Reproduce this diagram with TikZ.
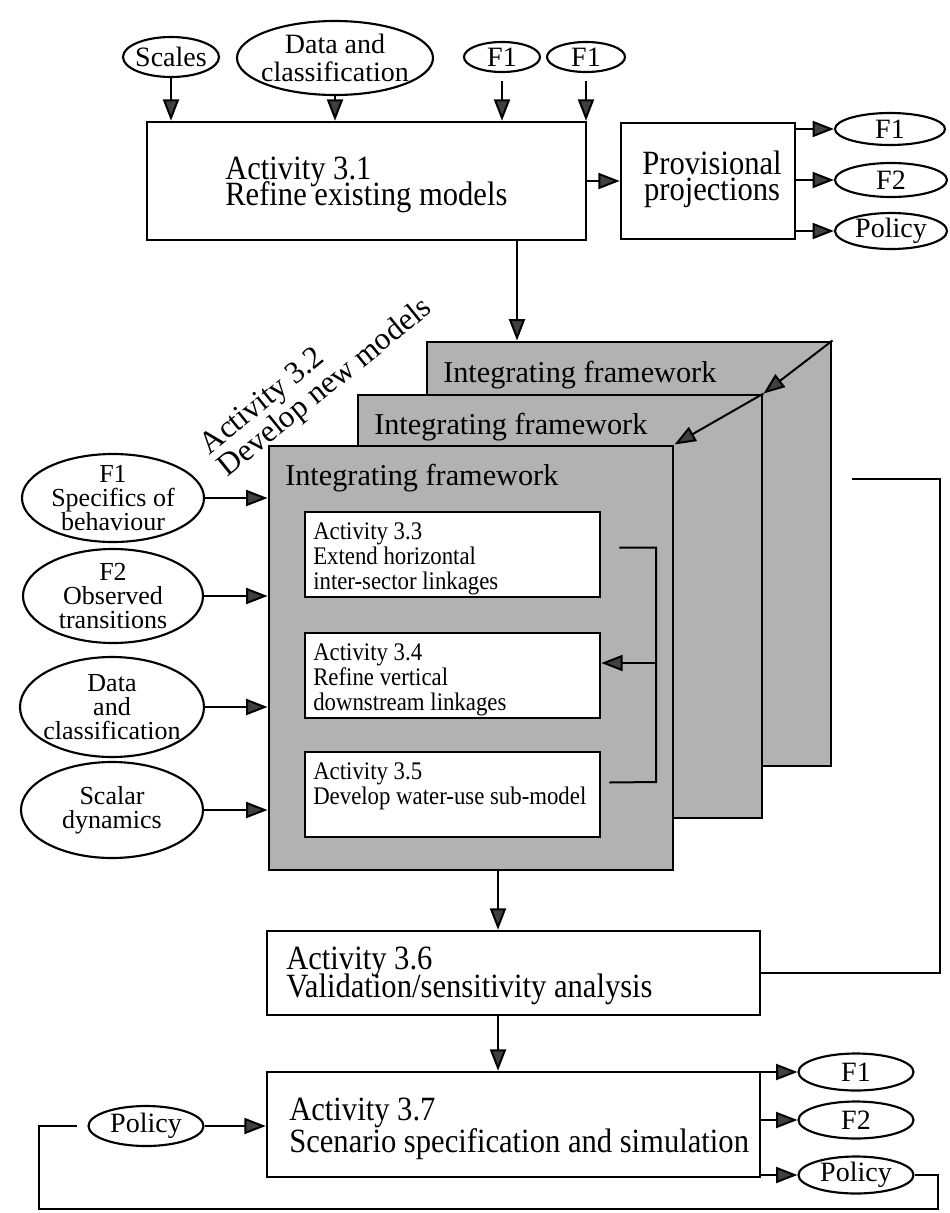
\documentclass[tikz,border=0pt]{standalone}
\usepackage{fontspec}
\setmainfont{Liberation Serif}
\newfontfamily\nserif{Liberation Serif}[FakeStretch=0.9]
\usetikzlibrary{arrows.meta,shapes.geometric,calc}

% font sizes used in the chart (lines kept at a fixed pitch)
\newcommand\tightlines{\lineskiplimit=-50pt\lineskip=0pt}
\newcommand\fntboxa{\nserif\fontsize{25.5pt}{19.5pt}\selectfont\tightlines}
\newcommand\fntprov{\nserif\fontsize{25.5pt}{19.5pt}\selectfont\tightlines}
\newcommand\fntboxb{\nserif\fontsize{25.5pt}{21.5pt}\selectfont\tightlines}
\newcommand\fntboxc{\nserif\fontsize{25.5pt}{23.5pt}\selectfont\tightlines}
\newcommand\fntin{\nserif\fontsize{19pt}{18.75pt}\selectfont\tightlines}
\newcommand\fntov{\fontsize{21pt}{21pt}\selectfont\tightlines}
\newcommand\fntside{\fontsize{19.5pt}{18pt}\selectfont\tightlines}
\newcommand\fntframe{\fontsize{22.7pt}{22.7pt}\selectfont\tightlines}
\newcommand\fntrot{\fontsize{23.5pt}{21.75pt}\selectfont\tightlines}

\begin{document}
\begin{tikzpicture}[x=0.75pt,y=-0.75pt,
  sz/.style 2 args={minimum width=#1*0.75pt, minimum height=#2*0.75pt},
  box/.style={draw, rectangle, line width=1.9pt, fill=white, inner sep=0pt},
  oval/.style={draw, ellipse, line width=1.6pt, fill=white, inner xsep=-60pt, inner ysep=-60pt, align=center},
  frame/.style={draw, rectangle, line width=2.2pt, fill=black!30, inner sep=0pt},
  lbl/.style={inner sep=0pt, align=left, anchor=west},
  link/.style={line width=1.5pt},
  conn/.style={link, -{Triangle[length=16pt,width=12pt,fill=black!75]}}
]
\useasboundingbox (0,0) rectangle (949,1213);

% ---------- Activity 3.1 and its inputs ----------
\node[oval, sz={96}{40}, font=\fntov] (scales) at (171,57) {Scales};
\node[oval, sz={196}{74}, font=\fntov] (data1) at (335,58) {Data and\\classification};
\node[oval, sz={76}{30}, font=\fntov] (f1a) at (502,57) {F1};
\node[oval, sz={78}{30}, font=\fntov] (f1b) at (586,57) {F1};

\node[box, sz={439}{118}] (b31) at (366.5,181) {};
\node[lbl, font=\fntboxa] (t31) at (225,185) {Activity 3.1\\Refine existing models};

\draw[conn] (scales.south) -- (scales.south |- b31.north);
\draw[conn] (data1.south) -- (data1.south |- b31.north);
\draw[conn] ([yshift=-6pt]f1a.south) -- (f1a.south |- b31.north);
\draw[conn] ([yshift=-6pt]f1b.south) -- (f1b.south |- b31.north);

% ---------- provisional projections ----------
\node[box, sz={174}{116}] (prov) at (708,181) {};
\node[inner sep=0pt, align=center, font=\fntprov] (tprov) at (712,179) {Provisional\\projections};
\node[oval, sz={110}{32}, font=\fntov] (pf1) at (890,129) {F1};
\node[oval, sz={112}{34}, font=\fntov] (pf2) at (891,180) {F2};
\node[oval, sz={112}{36}, font=\fntov] (ppol) at (891,231) {Policy};

\draw[conn] (b31.east) -- (prov.west);
\draw[conn] (prov.east |- pf1) -- (pf1.west);
\draw[conn] (prov.east |- pf2) -- (pf2.west);
\draw[conn] (prov.east |- ppol) -- (ppol.west);

% ---------- stacked integrating frameworks ----------
\node[frame, sz={404}{424}] (back) at (629,554) {};
\node[lbl, font=\fntframe] (tback) at (443,375) {Integrating framework};
\node[frame, sz={404}{423}] (mid) at (560,606.5) {};
\node[lbl, font=\fntframe] (tmid) at (374,427) {Integrating framework};
\node[frame, sz={404}{424}] (front) at (471,658) {};
\node[lbl, font=\fntframe] (tfront) at (285,478) {Integrating framework};

\draw[conn] (back.north east) -- (mid.north east);
\draw[conn] (mid.north east) -- (front.north east);

\coordinate (cxa) at (517,0);
\draw[conn] (cxa |- b31.south) -- (cxa |- back.north);

\node[lbl, rotate=39, font=\fntrot] (t32) at (214,461) {Activity 3.2\\Develop new models};

% ---------- inputs on the left ----------
\node[oval, sz={182}{88}, font=\fntside] (sp) at (113,498) {F1\\Specifics of\\behaviour};
\node[oval, sz={180}{94}, font=\fntside] (ob) at (113,596) {F2\\Observed\\transitions};
\node[oval, sz={184}{100}, font=\fntside] (dc) at (112,707) {Data\\and\\classification};
\node[oval, sz={182}{96}, font=\fntside] (sd) at (112,810) {Scalar\\dynamics};

\draw[conn] (sp.east) -- (sp.east -| front.west);
\draw[conn] (ob.east) -- (ob.east -| front.west);
\draw[conn] (dc.east) -- (dc.east -| front.west);
\draw[conn] (sd.east) -- (sd.east -| front.west);

% ---------- activities inside the framework ----------
\node[box, sz={295}{85}] (b33) at (452.5,554.5) {};
\node[lbl, anchor=north west, font=\fntin] (t33) at (313,522) {Activity 3.3\\Extend horizontal\\inter-sector linkages};
\node[box, sz={295}{85}] (b34) at (452.5,675.5) {};
\node[lbl, anchor=north west, font=\fntin] (t34) at (313,643) {Activity 3.4\\Refine vertical\\downstream linkages};
\node[box, sz={295}{85}] (b35) at (452.5,794.5) {};
\node[lbl, anchor=north west, font=\fntin] (t35) at (313,762) {Activity 3.5\\Develop water-use sub-model};

\coordinate (brb) at (656,782);
\coordinate (brm) at (656,663);
\draw[link] ($(b33.east)+(18,-7)$) -| (brb) -- ($(b35.east)+(8,-12)$);
\draw[conn] (brm) -- (brm -| b34.east);

% ---------- validation ----------
\node[box, sz={493}{84}] (b36) at (513.5,973) {};
\node[lbl, font=\fntboxb] (t36) at (286,976) {Activity 3.6\\Validation/sensitivity analysis};

\coordinate (cxb) at (498,0);
\draw[conn] (cxb |- front.south) -- (cxb |- b36.north);

\coordinate (fbr) at (940,479);
\coordinate (fbe) at (852,479);
\draw[link] (b36.east) -| (fbr) -- (fbe);

% ---------- scenario simulation ----------
\node[box, sz={493}{105}] (b37) at (513.5,1124.5) {};
\node[lbl, font=\fntboxc] (t37) at (289,1129) {Activity 3.7\\Scenario specification and simulation};

\draw[conn] (cxb |- b36.south) -- (cxb |- b37.north);

\node[oval, sz={115}{37}, font=\fntov] (sf1) at (856,1072) {F1};
\node[oval, sz={115}{37}, font=\fntov] (sf2) at (856,1120) {F2};
\node[oval, sz={115}{37}, font=\fntov] (spol) at (856,1175) {Policy};
\draw[conn] (b37.east |- sf1) -- (sf1.west);
\draw[conn] (b37.east |- sf2) -- (sf2.west);
\draw[conn] (b37.east |- spol) -- (spol.west);

\node[oval, sz={115}{40}, font=\fntov] (pin) at (146,1126) {Policy};
\draw[conn] (pin.east) -- (pin.east -| b37.west);

\coordinate (lpa) at (938,1209);
\coordinate (lpb) at (39,1209);
\coordinate (lpe) at (77,1126);
\draw[link] (spol.east) -| (lpa) -- (lpb) |- (lpe);
\end{tikzpicture}
\end{document}
